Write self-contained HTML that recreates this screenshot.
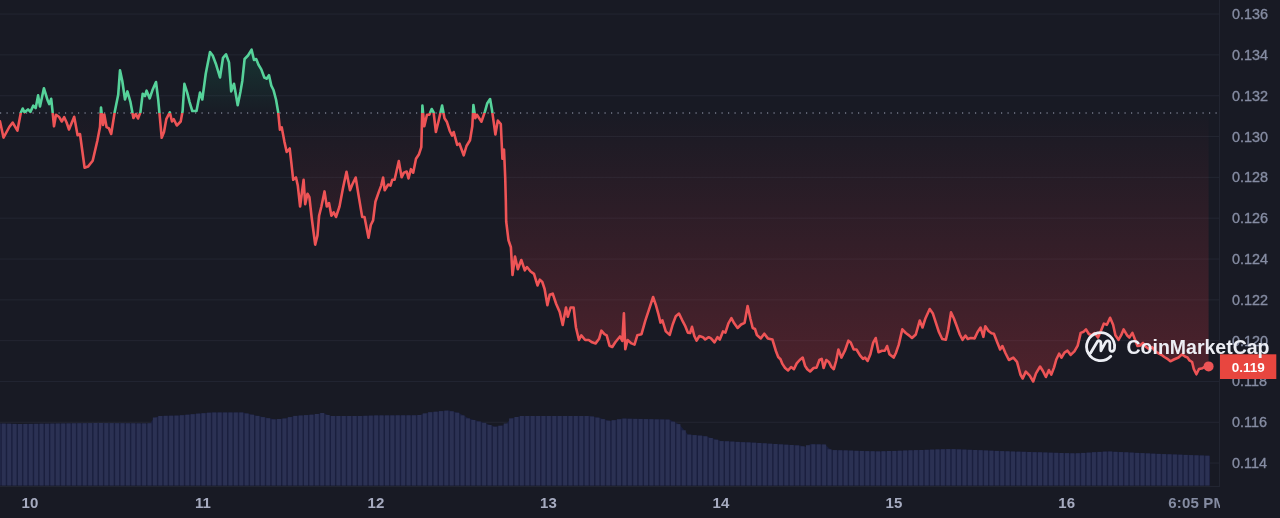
<!DOCTYPE html>
<html lang="en"><head><meta charset="utf-8"><title>Price chart</title>
<style>
html,body{margin:0;padding:0;background:#181a24;}
body{width:1280px;height:518px;overflow:hidden;font-family:"Liberation Sans",sans-serif;}
svg{display:block}
.yl text{font:14.4px "Liberation Sans",sans-serif;fill:#858ca2;stroke:#858ca2;stroke-width:0.35px;}
.xl text{font:bold 15px "Liberation Sans",sans-serif;fill:#a6abc0;letter-spacing:0.15px;}
</style></head><body>
<svg width="1280" height="518" viewBox="0 0 1280 518">
<defs>
<linearGradient id="gr" x1="0" y1="113.0" x2="0" y2="386" gradientUnits="userSpaceOnUse">
<stop offset="0" stop-color="#ea3943" stop-opacity="0.005"/><stop offset="1" stop-color="#ea3943" stop-opacity="0.265"/></linearGradient>
<linearGradient id="gg" x1="0" y1="45" x2="0" y2="113.0" gradientUnits="userSpaceOnUse">
<stop offset="0" stop-color="#16c784" stop-opacity="0.17"/><stop offset="1" stop-color="#16c784" stop-opacity="0.01"/></linearGradient>
<clipPath id="cu"><rect x="0" y="0" width="1220" height="113.0"/></clipPath>
<clipPath id="cd"><rect x="0" y="113.0" width="1220" height="400"/></clipPath>
<clipPath id="cx"><rect x="0" y="486" width="1220" height="32"/></clipPath>
</defs>
<rect width="1280" height="518" fill="#181a24"/>
<g stroke="#232632" stroke-width="1"><line x1="0" y1="14.05" x2="1219.5" y2="14.05"/><line x1="0" y1="54.85" x2="1219.5" y2="54.85"/><line x1="0" y1="95.75" x2="1219.5" y2="95.75"/><line x1="0" y1="136.55" x2="1219.5" y2="136.55"/><line x1="0" y1="177.35" x2="1219.5" y2="177.35"/><line x1="0" y1="218.15" x2="1219.5" y2="218.15"/><line x1="0" y1="259.05" x2="1219.5" y2="259.05"/><line x1="0" y1="299.85" x2="1219.5" y2="299.85"/><line x1="0" y1="340.65" x2="1219.5" y2="340.65"/><line x1="0" y1="381.45" x2="1219.5" y2="381.45"/><line x1="0" y1="422.25" x2="1219.5" y2="422.25"/><line x1="0" y1="463.05" x2="1219.5" y2="463.05"/></g>
<g clip-path="url(#cd)"><path d="M0.0,121.4 L3.5,137.6 L9.3,127.0 L12.7,122.6 L17.4,130.7 L20.8,112.8 L22.7,108.5 L24.6,112.3 L28.0,109.4 L30.4,111.9 L33.3,105.6 L35.7,108.0 L38.1,95.4 L40.0,106.5 L43.9,88.2 L47.8,100.8 L49.2,104.1 L51.2,98.8 L52.6,111.9 L54.0,126.3 L56.0,114.7 L58.9,116.7 L61.8,121.5 L64.2,117.2 L66.6,122.5 L69.0,129.5 L74.2,116.8 L77.6,135.3 L80.0,134.0 L84.6,167.8 L88.0,166.6 L92.7,160.8 L97.3,141.0 L100.0,127.0 L101.0,107.5 L103.0,125.0 L104.3,114.5 L106.6,127.2 L109.0,128.4 L111.2,134.0 L114.7,112.0 L118.2,94.8 L120.0,70.4 L122.3,81.0 L125.0,99.5 L127.4,91.4 L130.4,101.8 L133.4,118.0 L135.8,114.0 L138.0,118.5 L140.4,112.3 L142.7,93.7 L145.0,96.0 L146.6,90.7 L149.7,98.4 L152.4,90.3 L156.0,82.0 L158.2,99.5 L159.9,118.0 L161.7,137.8 L164.0,132.0 L166.3,119.2 L169.8,112.3 L172.0,121.5 L173.8,119.2 L176.8,125.5 L180.7,121.5 L182.6,111.0 L184.4,83.8 L187.2,92.6 L189.5,101.8 L192.3,111.0 L196.5,111.0 L200.0,92.6 L202.3,99.5 L205.7,74.0 L210.0,52.0 L212.7,55.5 L216.2,64.8 L220.0,77.5 L223.0,57.8 L226.0,54.3 L229.0,62.4 L231.2,91.4 L234.0,83.8 L237.7,105.3 L240.5,91.4 L242.3,81.0 L244.6,59.0 L248.0,55.5 L251.6,49.7 L254.0,60.0 L256.2,59.0 L258.5,64.8 L261.3,69.4 L264.3,77.5 L266.6,78.7 L269.0,75.2 L271.3,85.6 L273.6,90.3 L276.0,99.5 L278.2,112.3 L279.9,129.7 L281.7,127.3 L284.4,141.6 L286.7,152.0 L289.7,148.5 L291.3,162.4 L293.2,179.8 L296.0,177.5 L297.8,185.6 L300.1,206.5 L303.6,179.8 L305.2,204.2 L307.5,193.7 L309.4,197.2 L311.7,218.0 L315.2,244.7 L317.5,235.4 L319.1,215.7 L321.4,206.5 L324.5,191.4 L326.8,206.5 L329.0,203.0 L331.4,215.7 L333.7,212.3 L336.0,217.0 L339.5,206.5 L343.0,188.0 L346.5,171.7 L350.0,190.3 L352.3,184.5 L355.7,177.5 L358.5,195.0 L362.2,217.0 L364.5,217.0 L368.5,237.8 L370.8,225.0 L373.1,220.4 L375.4,201.8 L379.0,191.4 L381.2,185.6 L383.1,177.5 L384.7,190.3 L388.2,184.5 L390.5,185.6 L392.3,179.7 L394.6,179.7 L398.8,161.0 L401.6,177.3 L403.9,172.7 L406.7,171.5 L408.5,178.5 L410.9,169.2 L413.2,172.7 L416.0,158.8 L419.0,154.2 L421.3,147.2 L422.4,105.5 L424.3,126.3 L427.0,114.8 L429.3,114.8 L431.7,109.0 L433.6,112.4 L435.9,132.0 L438.7,120.5 L442.1,105.5 L444.5,118.2 L446.8,121.7 L449.8,131.0 L452.1,135.6 L453.7,132.0 L457.2,144.9 L459.5,143.7 L463.7,155.3 L466.5,146.0 L470.0,140.3 L472.3,126.3 L473.4,105.0 L475.3,118.2 L476.9,114.8 L479.2,118.2 L481.5,121.7 L485.0,111.3 L487.3,103.2 L490.1,99.0 L492.0,110.0 L493.8,122.9 L495.4,134.5 L497.8,120.6 L500.8,124.0 L502.4,158.8 L504.0,149.5 L505.2,177.3 L505.8,200.0 L506.2,221.7 L508.5,240.3 L510.9,247.2 L512.5,275.0 L515.0,256.5 L517.8,269.2 L521.3,260.0 L524.8,270.4 L527.0,267.0 L530.6,271.5 L534.0,273.9 L537.5,285.4 L539.8,279.7 L542.3,282.0 L544.6,289.0 L547.4,305.2 L549.7,294.8 L552.7,293.6 L556.2,304.0 L559.7,312.0 L562.7,324.9 L566.0,307.5 L567.8,316.8 L570.6,307.5 L573.6,307.5 L575.9,327.2 L578.9,340.0 L581.3,335.3 L585.2,340.0 L588.7,340.0 L592.1,342.3 L595.6,343.4 L599.1,338.8 L601.4,330.7 L604.4,334.2 L606.7,335.3 L609.5,345.7 L612.3,347.0 L615.3,342.3 L620.0,336.5 L622.3,341.0 L623.9,313.3 L625.3,349.2 L627.6,340.0 L631.5,343.4 L634.5,344.6 L637.3,335.3 L641.5,334.2 L645.4,320.3 L648.9,309.8 L653.1,297.0 L655.9,305.2 L658.2,313.3 L660.5,322.6 L662.4,320.3 L665.8,331.4 L669.7,334.9 L672.7,324.5 L675.8,316.3 L679.0,313.6 L682.0,319.8 L685.0,325.6 L687.8,332.6 L690.1,333.0 L692.0,326.8 L694.3,336.0 L696.6,340.7 L699.4,336.0 L702.9,337.2 L705.2,339.5 L708.7,337.2 L711.0,338.4 L714.5,342.3 L717.5,337.2 L719.8,339.5 L723.0,331.4 L725.4,332.6 L728.4,323.3 L731.4,318.2 L734.2,323.3 L737.6,328.0 L741.1,324.5 L744.6,322.8 L747.6,306.0 L750.4,318.7 L752.7,328.0 L755.0,329.0 L756.9,335.0 L760.8,338.4 L764.3,333.7 L767.8,338.4 L772.4,339.5 L775.9,351.0 L778.2,357.0 L780.5,359.2 L782.4,363.9 L785.1,368.0 L788.1,370.4 L791.1,367.0 L793.9,369.2 L796.7,363.4 L799.7,360.0 L802.7,357.6 L805.0,365.7 L807.3,369.2 L810.1,371.5 L813.6,368.0 L816.6,367.6 L819.4,360.0 L821.7,358.8 L823.6,368.0 L826.3,360.0 L829.1,362.3 L831.4,366.9 L833.8,369.2 L836.1,361.0 L838.4,349.5 L841.4,357.6 L844.9,350.7 L848.4,340.7 L850.7,342.6 L853.7,349.5 L856.5,349.5 L860.0,355.3 L863.0,358.8 L865.0,357.6 L867.6,361.0 L870.4,354.2 L873.2,342.6 L875.7,338.0 L878.5,352.3 L882.0,350.7 L884.8,350.7 L887.1,346.0 L889.4,354.2 L893.6,357.6 L895.9,353.0 L898.7,344.9 L902.3,329.3 L905.8,333.0 L909.3,335.6 L912.0,338.0 L915.8,334.5 L919.7,320.6 L922.5,327.5 L925.5,318.2 L929.7,309.0 L932.9,313.6 L935.9,322.9 L938.9,332.0 L942.2,339.0 L945.9,339.8 L948.2,329.8 L951.0,312.4 L953.8,318.2 L956.8,326.3 L959.8,334.5 L962.6,339.8 L965.4,335.6 L967.7,339.0 L970.7,338.0 L974.6,338.4 L977.6,332.0 L980.6,327.5 L983.4,336.8 L985.3,326.3 L988.5,331.0 L991.5,333.3 L993.9,333.8 L996.9,341.4 L1000.1,349.5 L1002.4,346.0 L1005.4,353.0 L1008.9,360.0 L1013.3,357.6 L1017.0,361.8 L1020.4,374.5 L1022.7,378.5 L1025.8,371.6 L1029.7,375.7 L1033.2,381.5 L1036.0,373.4 L1040.1,366.5 L1042.9,371.0 L1045.9,377.0 L1048.9,370.0 L1051.3,374.6 L1054.0,367.6 L1056.3,359.5 L1059.1,353.7 L1061.4,357.7 L1064.5,352.6 L1067.5,350.7 L1070.7,354.9 L1074.4,351.4 L1077.7,345.6 L1080.7,332.9 L1083.7,331.7 L1086.0,329.4 L1088.8,334.0 L1091.5,335.2 L1094.5,333.0 L1098.0,337.5 L1101.5,329.4 L1103.9,323.6 L1106.9,324.8 L1110.1,317.8 L1113.1,324.8 L1115.4,335.2 L1118.5,339.8 L1121.2,335.2 L1123.6,329.4 L1127.0,335.2 L1129.4,337.5 L1132.4,332.9 L1135.1,339.8 L1137.5,346.0 L1140.0,345.6 L1143.0,343.0 L1146.0,347.0 L1149.0,349.0 L1152.0,347.0 L1155.0,351.0 L1158.0,353.0 L1161.7,355.0 L1164.3,357.0 L1167.0,358.6 L1170.4,361.3 L1173.9,359.5 L1178.5,357.5 L1182.0,354.4 L1185.0,356.5 L1187.5,357.5 L1189.5,360.4 L1192.1,362.0 L1193.8,369.0 L1196.4,374.3 L1199.0,369.0 L1202.5,368.2 L1205.0,366.5 L1208.6,366.5 L1208.6,113.0 L0,113.0 Z" fill="url(#gr)"/></g>
<g clip-path="url(#cu)"><path d="M0.0,121.4 L3.5,137.6 L9.3,127.0 L12.7,122.6 L17.4,130.7 L20.8,112.8 L22.7,108.5 L24.6,112.3 L28.0,109.4 L30.4,111.9 L33.3,105.6 L35.7,108.0 L38.1,95.4 L40.0,106.5 L43.9,88.2 L47.8,100.8 L49.2,104.1 L51.2,98.8 L52.6,111.9 L54.0,126.3 L56.0,114.7 L58.9,116.7 L61.8,121.5 L64.2,117.2 L66.6,122.5 L69.0,129.5 L74.2,116.8 L77.6,135.3 L80.0,134.0 L84.6,167.8 L88.0,166.6 L92.7,160.8 L97.3,141.0 L100.0,127.0 L101.0,107.5 L103.0,125.0 L104.3,114.5 L106.6,127.2 L109.0,128.4 L111.2,134.0 L114.7,112.0 L118.2,94.8 L120.0,70.4 L122.3,81.0 L125.0,99.5 L127.4,91.4 L130.4,101.8 L133.4,118.0 L135.8,114.0 L138.0,118.5 L140.4,112.3 L142.7,93.7 L145.0,96.0 L146.6,90.7 L149.7,98.4 L152.4,90.3 L156.0,82.0 L158.2,99.5 L159.9,118.0 L161.7,137.8 L164.0,132.0 L166.3,119.2 L169.8,112.3 L172.0,121.5 L173.8,119.2 L176.8,125.5 L180.7,121.5 L182.6,111.0 L184.4,83.8 L187.2,92.6 L189.5,101.8 L192.3,111.0 L196.5,111.0 L200.0,92.6 L202.3,99.5 L205.7,74.0 L210.0,52.0 L212.7,55.5 L216.2,64.8 L220.0,77.5 L223.0,57.8 L226.0,54.3 L229.0,62.4 L231.2,91.4 L234.0,83.8 L237.7,105.3 L240.5,91.4 L242.3,81.0 L244.6,59.0 L248.0,55.5 L251.6,49.7 L254.0,60.0 L256.2,59.0 L258.5,64.8 L261.3,69.4 L264.3,77.5 L266.6,78.7 L269.0,75.2 L271.3,85.6 L273.6,90.3 L276.0,99.5 L278.2,112.3 L279.9,129.7 L281.7,127.3 L284.4,141.6 L286.7,152.0 L289.7,148.5 L291.3,162.4 L293.2,179.8 L296.0,177.5 L297.8,185.6 L300.1,206.5 L303.6,179.8 L305.2,204.2 L307.5,193.7 L309.4,197.2 L311.7,218.0 L315.2,244.7 L317.5,235.4 L319.1,215.7 L321.4,206.5 L324.5,191.4 L326.8,206.5 L329.0,203.0 L331.4,215.7 L333.7,212.3 L336.0,217.0 L339.5,206.5 L343.0,188.0 L346.5,171.7 L350.0,190.3 L352.3,184.5 L355.7,177.5 L358.5,195.0 L362.2,217.0 L364.5,217.0 L368.5,237.8 L370.8,225.0 L373.1,220.4 L375.4,201.8 L379.0,191.4 L381.2,185.6 L383.1,177.5 L384.7,190.3 L388.2,184.5 L390.5,185.6 L392.3,179.7 L394.6,179.7 L398.8,161.0 L401.6,177.3 L403.9,172.7 L406.7,171.5 L408.5,178.5 L410.9,169.2 L413.2,172.7 L416.0,158.8 L419.0,154.2 L421.3,147.2 L422.4,105.5 L424.3,126.3 L427.0,114.8 L429.3,114.8 L431.7,109.0 L433.6,112.4 L435.9,132.0 L438.7,120.5 L442.1,105.5 L444.5,118.2 L446.8,121.7 L449.8,131.0 L452.1,135.6 L453.7,132.0 L457.2,144.9 L459.5,143.7 L463.7,155.3 L466.5,146.0 L470.0,140.3 L472.3,126.3 L473.4,105.0 L475.3,118.2 L476.9,114.8 L479.2,118.2 L481.5,121.7 L485.0,111.3 L487.3,103.2 L490.1,99.0 L492.0,110.0 L493.8,122.9 L495.4,134.5 L497.8,120.6 L500.8,124.0 L502.4,158.8 L504.0,149.5 L505.2,177.3 L505.8,200.0 L506.2,221.7 L508.5,240.3 L510.9,247.2 L512.5,275.0 L515.0,256.5 L517.8,269.2 L521.3,260.0 L524.8,270.4 L527.0,267.0 L530.6,271.5 L534.0,273.9 L537.5,285.4 L539.8,279.7 L542.3,282.0 L544.6,289.0 L547.4,305.2 L549.7,294.8 L552.7,293.6 L556.2,304.0 L559.7,312.0 L562.7,324.9 L566.0,307.5 L567.8,316.8 L570.6,307.5 L573.6,307.5 L575.9,327.2 L578.9,340.0 L581.3,335.3 L585.2,340.0 L588.7,340.0 L592.1,342.3 L595.6,343.4 L599.1,338.8 L601.4,330.7 L604.4,334.2 L606.7,335.3 L609.5,345.7 L612.3,347.0 L615.3,342.3 L620.0,336.5 L622.3,341.0 L623.9,313.3 L625.3,349.2 L627.6,340.0 L631.5,343.4 L634.5,344.6 L637.3,335.3 L641.5,334.2 L645.4,320.3 L648.9,309.8 L653.1,297.0 L655.9,305.2 L658.2,313.3 L660.5,322.6 L662.4,320.3 L665.8,331.4 L669.7,334.9 L672.7,324.5 L675.8,316.3 L679.0,313.6 L682.0,319.8 L685.0,325.6 L687.8,332.6 L690.1,333.0 L692.0,326.8 L694.3,336.0 L696.6,340.7 L699.4,336.0 L702.9,337.2 L705.2,339.5 L708.7,337.2 L711.0,338.4 L714.5,342.3 L717.5,337.2 L719.8,339.5 L723.0,331.4 L725.4,332.6 L728.4,323.3 L731.4,318.2 L734.2,323.3 L737.6,328.0 L741.1,324.5 L744.6,322.8 L747.6,306.0 L750.4,318.7 L752.7,328.0 L755.0,329.0 L756.9,335.0 L760.8,338.4 L764.3,333.7 L767.8,338.4 L772.4,339.5 L775.9,351.0 L778.2,357.0 L780.5,359.2 L782.4,363.9 L785.1,368.0 L788.1,370.4 L791.1,367.0 L793.9,369.2 L796.7,363.4 L799.7,360.0 L802.7,357.6 L805.0,365.7 L807.3,369.2 L810.1,371.5 L813.6,368.0 L816.6,367.6 L819.4,360.0 L821.7,358.8 L823.6,368.0 L826.3,360.0 L829.1,362.3 L831.4,366.9 L833.8,369.2 L836.1,361.0 L838.4,349.5 L841.4,357.6 L844.9,350.7 L848.4,340.7 L850.7,342.6 L853.7,349.5 L856.5,349.5 L860.0,355.3 L863.0,358.8 L865.0,357.6 L867.6,361.0 L870.4,354.2 L873.2,342.6 L875.7,338.0 L878.5,352.3 L882.0,350.7 L884.8,350.7 L887.1,346.0 L889.4,354.2 L893.6,357.6 L895.9,353.0 L898.7,344.9 L902.3,329.3 L905.8,333.0 L909.3,335.6 L912.0,338.0 L915.8,334.5 L919.7,320.6 L922.5,327.5 L925.5,318.2 L929.7,309.0 L932.9,313.6 L935.9,322.9 L938.9,332.0 L942.2,339.0 L945.9,339.8 L948.2,329.8 L951.0,312.4 L953.8,318.2 L956.8,326.3 L959.8,334.5 L962.6,339.8 L965.4,335.6 L967.7,339.0 L970.7,338.0 L974.6,338.4 L977.6,332.0 L980.6,327.5 L983.4,336.8 L985.3,326.3 L988.5,331.0 L991.5,333.3 L993.9,333.8 L996.9,341.4 L1000.1,349.5 L1002.4,346.0 L1005.4,353.0 L1008.9,360.0 L1013.3,357.6 L1017.0,361.8 L1020.4,374.5 L1022.7,378.5 L1025.8,371.6 L1029.7,375.7 L1033.2,381.5 L1036.0,373.4 L1040.1,366.5 L1042.9,371.0 L1045.9,377.0 L1048.9,370.0 L1051.3,374.6 L1054.0,367.6 L1056.3,359.5 L1059.1,353.7 L1061.4,357.7 L1064.5,352.6 L1067.5,350.7 L1070.7,354.9 L1074.4,351.4 L1077.7,345.6 L1080.7,332.9 L1083.7,331.7 L1086.0,329.4 L1088.8,334.0 L1091.5,335.2 L1094.5,333.0 L1098.0,337.5 L1101.5,329.4 L1103.9,323.6 L1106.9,324.8 L1110.1,317.8 L1113.1,324.8 L1115.4,335.2 L1118.5,339.8 L1121.2,335.2 L1123.6,329.4 L1127.0,335.2 L1129.4,337.5 L1132.4,332.9 L1135.1,339.8 L1137.5,346.0 L1140.0,345.6 L1143.0,343.0 L1146.0,347.0 L1149.0,349.0 L1152.0,347.0 L1155.0,351.0 L1158.0,353.0 L1161.7,355.0 L1164.3,357.0 L1167.0,358.6 L1170.4,361.3 L1173.9,359.5 L1178.5,357.5 L1182.0,354.4 L1185.0,356.5 L1187.5,357.5 L1189.5,360.4 L1192.1,362.0 L1193.8,369.0 L1196.4,374.3 L1199.0,369.0 L1202.5,368.2 L1205.0,366.5 L1208.6,366.5 L1208.6,113.0 L0,113.0 Z" fill="url(#gg)"/></g>
<path d="M0,485.5 L0,423.5 L20,424 L60,423.5 L100,423 L150,423.5 L154,418 L160,416 L180,415.5 L200,413.5 L212,412.5 L243,412.5 L256,415.5 L275,419.5 L285,418.5 L295,416 L315,414.5 L323,413 L331,416 L360,416 L377,415.4 L419,415.3 L429,412.4 L449,410.4 L459,413 L469,418.6 L485,423 L495,426.8 L505,425 L511,418.6 L521,416 L590,416 L600,418 L610,421 L623,418.6 L669,419.6 L679,424 L688,434.4 L705,436 L721,441 L760,443 L800,445.5 L806,447 L810,444.2 L825,444.5 L831,450 L879,451.4 L951,449 L1010,451.4 L1076,453.4 L1108,451.4 L1161,454 L1209,455.7 L1210,455.7 L1210,485.5 Z" fill="#1a1f3e"/>
<g fill="#2b3153"><rect x="0.00" y="423.5" width="0.37" height="62.0"/><rect x="1.77" y="423.6" width="4.00" height="61.9"/><rect x="7.17" y="423.7" width="4.00" height="61.8"/><rect x="12.57" y="423.9" width="4.00" height="61.6"/><rect x="17.96" y="424.0" width="4.00" height="61.5"/><rect x="23.36" y="423.9" width="4.00" height="61.6"/><rect x="28.76" y="423.9" width="4.00" height="61.6"/><rect x="34.15" y="423.8" width="4.00" height="61.7"/><rect x="39.55" y="423.7" width="4.00" height="61.8"/><rect x="44.95" y="423.7" width="4.00" height="61.8"/><rect x="50.34" y="423.6" width="4.00" height="61.9"/><rect x="55.74" y="423.5" width="4.00" height="62.0"/><rect x="61.14" y="423.5" width="4.00" height="62.0"/><rect x="66.54" y="423.4" width="4.00" height="62.1"/><rect x="71.93" y="423.3" width="4.00" height="62.2"/><rect x="77.33" y="423.2" width="4.00" height="62.3"/><rect x="82.73" y="423.2" width="4.00" height="62.3"/><rect x="88.12" y="423.1" width="4.00" height="62.4"/><rect x="93.52" y="423.0" width="4.00" height="62.5"/><rect x="98.92" y="423.0" width="4.00" height="62.5"/><rect x="104.31" y="423.1" width="4.00" height="62.4"/><rect x="109.71" y="423.1" width="4.00" height="62.4"/><rect x="115.11" y="423.2" width="4.00" height="62.3"/><rect x="120.51" y="423.2" width="4.00" height="62.3"/><rect x="125.90" y="423.3" width="4.00" height="62.2"/><rect x="131.30" y="423.3" width="4.00" height="62.2"/><rect x="136.70" y="423.4" width="4.00" height="62.1"/><rect x="142.09" y="423.4" width="4.00" height="62.1"/><rect x="147.49" y="423.2" width="4.00" height="62.3"/><rect x="152.89" y="417.5" width="4.00" height="68.0"/><rect x="158.28" y="416.0" width="4.00" height="69.5"/><rect x="163.68" y="415.8" width="4.00" height="69.7"/><rect x="169.08" y="415.7" width="4.00" height="69.8"/><rect x="174.48" y="415.6" width="4.00" height="69.9"/><rect x="179.87" y="415.2" width="4.00" height="70.3"/><rect x="185.27" y="414.7" width="4.00" height="70.8"/><rect x="190.67" y="414.2" width="4.00" height="71.3"/><rect x="196.06" y="413.6" width="4.00" height="71.9"/><rect x="201.46" y="413.2" width="4.00" height="72.3"/><rect x="206.86" y="412.7" width="4.00" height="72.8"/><rect x="212.25" y="412.5" width="4.00" height="73.0"/><rect x="217.65" y="412.5" width="4.00" height="73.0"/><rect x="223.05" y="412.5" width="4.00" height="73.0"/><rect x="228.45" y="412.5" width="4.00" height="73.0"/><rect x="233.84" y="412.5" width="4.00" height="73.0"/><rect x="239.24" y="412.5" width="4.00" height="73.0"/><rect x="244.64" y="413.5" width="4.00" height="72.0"/><rect x="250.03" y="414.7" width="4.00" height="70.8"/><rect x="255.43" y="415.9" width="4.00" height="69.6"/><rect x="260.83" y="417.1" width="4.00" height="68.4"/><rect x="266.22" y="418.2" width="4.00" height="67.3"/><rect x="271.62" y="419.4" width="4.00" height="66.1"/><rect x="277.02" y="419.0" width="4.00" height="66.5"/><rect x="282.42" y="418.5" width="4.00" height="67.0"/><rect x="287.81" y="417.1" width="4.00" height="68.4"/><rect x="293.21" y="415.9" width="4.00" height="69.6"/><rect x="298.61" y="415.5" width="4.00" height="70.0"/><rect x="304.00" y="415.1" width="4.00" height="70.4"/><rect x="309.40" y="414.7" width="4.00" height="70.8"/><rect x="314.80" y="414.0" width="4.00" height="71.5"/><rect x="320.19" y="413.0" width="4.00" height="72.5"/><rect x="325.59" y="415.0" width="4.00" height="70.5"/><rect x="330.99" y="416.0" width="4.00" height="69.5"/><rect x="336.39" y="416.0" width="4.00" height="69.5"/><rect x="341.78" y="416.0" width="4.00" height="69.5"/><rect x="347.18" y="416.0" width="4.00" height="69.5"/><rect x="352.58" y="416.0" width="4.00" height="69.5"/><rect x="357.97" y="416.0" width="4.00" height="69.5"/><rect x="363.37" y="415.8" width="4.00" height="69.7"/><rect x="368.77" y="415.6" width="4.00" height="69.9"/><rect x="374.16" y="415.4" width="4.00" height="70.1"/><rect x="379.56" y="415.4" width="4.00" height="70.1"/><rect x="384.96" y="415.4" width="4.00" height="70.1"/><rect x="390.36" y="415.4" width="4.00" height="70.1"/><rect x="395.75" y="415.3" width="4.00" height="70.2"/><rect x="401.15" y="415.3" width="4.00" height="70.2"/><rect x="406.55" y="415.3" width="4.00" height="70.2"/><rect x="411.94" y="415.3" width="4.00" height="70.2"/><rect x="417.34" y="415.0" width="4.00" height="70.5"/><rect x="422.74" y="413.4" width="4.00" height="72.1"/><rect x="428.13" y="412.2" width="4.00" height="73.3"/><rect x="433.53" y="411.7" width="4.00" height="73.8"/><rect x="438.93" y="411.1" width="4.00" height="74.4"/><rect x="444.33" y="410.6" width="4.00" height="74.9"/><rect x="449.72" y="411.3" width="4.00" height="74.2"/><rect x="455.12" y="412.7" width="4.00" height="72.8"/><rect x="460.52" y="415.4" width="4.00" height="70.1"/><rect x="465.91" y="418.4" width="4.00" height="67.1"/><rect x="471.31" y="420.0" width="4.00" height="65.5"/><rect x="476.71" y="421.5" width="4.00" height="64.0"/><rect x="482.10" y="422.9" width="4.00" height="62.6"/><rect x="487.50" y="425.0" width="4.00" height="60.5"/><rect x="492.90" y="426.7" width="4.00" height="58.8"/><rect x="498.30" y="425.7" width="4.00" height="59.8"/><rect x="503.69" y="423.5" width="4.00" height="62.0"/><rect x="509.09" y="418.4" width="4.00" height="67.1"/><rect x="514.49" y="417.0" width="4.00" height="68.5"/><rect x="519.88" y="416.0" width="4.00" height="69.5"/><rect x="525.28" y="416.0" width="4.00" height="69.5"/><rect x="530.68" y="416.0" width="4.00" height="69.5"/><rect x="536.07" y="416.0" width="4.00" height="69.5"/><rect x="541.47" y="416.0" width="4.00" height="69.5"/><rect x="546.87" y="416.0" width="4.00" height="69.5"/><rect x="552.27" y="416.0" width="4.00" height="69.5"/><rect x="557.66" y="416.0" width="4.00" height="69.5"/><rect x="563.06" y="416.0" width="4.00" height="69.5"/><rect x="568.46" y="416.0" width="4.00" height="69.5"/><rect x="573.85" y="416.0" width="4.00" height="69.5"/><rect x="579.25" y="416.0" width="4.00" height="69.5"/><rect x="584.65" y="416.0" width="4.00" height="69.5"/><rect x="590.05" y="416.5" width="4.00" height="69.0"/><rect x="595.44" y="417.6" width="4.00" height="67.9"/><rect x="600.84" y="419.1" width="4.00" height="66.4"/><rect x="606.24" y="420.7" width="4.00" height="64.8"/><rect x="611.63" y="420.2" width="4.00" height="65.3"/><rect x="617.03" y="419.2" width="4.00" height="66.3"/><rect x="622.43" y="418.6" width="4.00" height="66.9"/><rect x="627.82" y="418.8" width="4.00" height="66.7"/><rect x="633.22" y="418.9" width="4.00" height="66.6"/><rect x="638.62" y="419.0" width="4.00" height="66.5"/><rect x="644.02" y="419.1" width="4.00" height="66.4"/><rect x="649.41" y="419.2" width="4.00" height="66.3"/><rect x="654.81" y="419.4" width="4.00" height="66.1"/><rect x="660.21" y="419.5" width="4.00" height="66.0"/><rect x="665.60" y="419.6" width="4.00" height="65.9"/><rect x="671.00" y="421.7" width="4.00" height="63.8"/><rect x="676.40" y="424.1" width="4.00" height="61.4"/><rect x="681.79" y="430.3" width="4.00" height="55.2"/><rect x="687.19" y="434.6" width="4.00" height="50.9"/><rect x="692.59" y="435.1" width="4.00" height="50.4"/><rect x="697.99" y="435.6" width="4.00" height="49.9"/><rect x="703.38" y="436.3" width="4.00" height="49.2"/><rect x="708.78" y="438.0" width="4.00" height="47.5"/><rect x="714.18" y="439.7" width="4.00" height="45.8"/><rect x="719.57" y="441.1" width="4.00" height="44.4"/><rect x="724.97" y="441.3" width="4.00" height="44.2"/><rect x="730.37" y="441.6" width="4.00" height="43.9"/><rect x="735.76" y="441.9" width="4.00" height="43.6"/><rect x="741.16" y="442.2" width="4.00" height="43.3"/><rect x="746.56" y="442.4" width="4.00" height="43.1"/><rect x="751.96" y="442.7" width="4.00" height="42.8"/><rect x="757.35" y="443.0" width="4.00" height="42.5"/><rect x="762.75" y="443.3" width="4.00" height="42.2"/><rect x="768.15" y="443.7" width="4.00" height="41.8"/><rect x="773.54" y="444.0" width="4.00" height="41.5"/><rect x="778.94" y="444.4" width="4.00" height="41.1"/><rect x="784.34" y="444.7" width="4.00" height="40.8"/><rect x="789.73" y="445.0" width="4.00" height="40.5"/><rect x="795.13" y="445.4" width="4.00" height="40.1"/><rect x="800.53" y="446.3" width="4.00" height="39.2"/><rect x="805.93" y="445.2" width="4.00" height="40.3"/><rect x="811.32" y="444.3" width="4.00" height="41.2"/><rect x="816.72" y="444.4" width="4.00" height="41.1"/><rect x="822.12" y="444.5" width="4.00" height="41.0"/><rect x="827.51" y="449.3" width="4.00" height="36.2"/><rect x="832.91" y="450.1" width="4.00" height="35.4"/><rect x="838.31" y="450.3" width="4.00" height="35.2"/><rect x="843.70" y="450.4" width="4.00" height="35.1"/><rect x="849.10" y="450.6" width="4.00" height="34.9"/><rect x="854.50" y="450.8" width="4.00" height="34.7"/><rect x="859.90" y="450.9" width="4.00" height="34.6"/><rect x="865.29" y="451.1" width="4.00" height="34.4"/><rect x="870.69" y="451.2" width="4.00" height="34.3"/><rect x="876.09" y="451.4" width="4.00" height="34.1"/><rect x="881.48" y="451.2" width="4.00" height="34.3"/><rect x="886.88" y="451.0" width="4.00" height="34.5"/><rect x="892.28" y="450.9" width="4.00" height="34.6"/><rect x="897.67" y="450.7" width="4.00" height="34.8"/><rect x="903.07" y="450.5" width="4.00" height="35.0"/><rect x="908.47" y="450.3" width="4.00" height="35.2"/><rect x="913.87" y="450.1" width="4.00" height="35.4"/><rect x="919.26" y="450.0" width="4.00" height="35.5"/><rect x="924.66" y="449.8" width="4.00" height="35.7"/><rect x="930.06" y="449.6" width="4.00" height="35.9"/><rect x="935.45" y="449.4" width="4.00" height="36.1"/><rect x="940.85" y="449.2" width="4.00" height="36.3"/><rect x="946.25" y="449.1" width="4.00" height="36.4"/><rect x="951.64" y="449.1" width="4.00" height="36.4"/><rect x="957.04" y="449.4" width="4.00" height="36.1"/><rect x="962.44" y="449.6" width="4.00" height="35.9"/><rect x="967.84" y="449.8" width="4.00" height="35.7"/><rect x="973.23" y="450.0" width="4.00" height="35.5"/><rect x="978.63" y="450.2" width="4.00" height="35.3"/><rect x="984.03" y="450.5" width="4.00" height="35.0"/><rect x="989.42" y="450.7" width="4.00" height="34.8"/><rect x="994.82" y="450.9" width="4.00" height="34.6"/><rect x="1000.22" y="451.1" width="4.00" height="34.4"/><rect x="1005.61" y="451.3" width="4.00" height="34.2"/><rect x="1011.01" y="451.5" width="4.00" height="34.0"/><rect x="1016.41" y="451.7" width="4.00" height="33.8"/><rect x="1021.81" y="451.8" width="4.00" height="33.7"/><rect x="1027.20" y="452.0" width="4.00" height="33.5"/><rect x="1032.60" y="452.2" width="4.00" height="33.3"/><rect x="1038.00" y="452.3" width="4.00" height="33.2"/><rect x="1043.39" y="452.5" width="4.00" height="33.0"/><rect x="1048.79" y="452.7" width="4.00" height="32.8"/><rect x="1054.19" y="452.8" width="4.00" height="32.7"/><rect x="1059.58" y="453.0" width="4.00" height="32.5"/><rect x="1064.98" y="453.1" width="4.00" height="32.4"/><rect x="1070.38" y="453.3" width="4.00" height="32.2"/><rect x="1075.78" y="453.2" width="4.00" height="32.3"/><rect x="1081.17" y="452.9" width="4.00" height="32.6"/><rect x="1086.57" y="452.6" width="4.00" height="32.9"/><rect x="1091.97" y="452.2" width="4.00" height="33.3"/><rect x="1097.36" y="451.9" width="4.00" height="33.6"/><rect x="1102.76" y="451.6" width="4.00" height="33.9"/><rect x="1108.16" y="451.5" width="4.00" height="34.0"/><rect x="1113.55" y="451.8" width="4.00" height="33.7"/><rect x="1118.95" y="452.1" width="4.00" height="33.4"/><rect x="1124.35" y="452.3" width="4.00" height="33.2"/><rect x="1129.75" y="452.6" width="4.00" height="32.9"/><rect x="1135.14" y="452.9" width="4.00" height="32.6"/><rect x="1140.54" y="453.1" width="4.00" height="32.4"/><rect x="1145.94" y="453.4" width="4.00" height="32.1"/><rect x="1151.33" y="453.7" width="4.00" height="31.8"/><rect x="1156.73" y="453.9" width="4.00" height="31.6"/><rect x="1162.13" y="454.1" width="4.00" height="31.4"/><rect x="1167.52" y="454.3" width="4.00" height="31.2"/><rect x="1172.92" y="454.5" width="4.00" height="31.0"/><rect x="1178.32" y="454.7" width="4.00" height="30.8"/><rect x="1183.72" y="454.9" width="4.00" height="30.6"/><rect x="1189.11" y="455.1" width="4.00" height="30.4"/><rect x="1194.51" y="455.3" width="4.00" height="30.2"/><rect x="1199.91" y="455.5" width="4.00" height="30.0"/><rect x="1205.30" y="455.7" width="4.00" height="29.8"/></g>
<line x1="0" y1="113.0" x2="1218" y2="113.0" stroke="#a1a7bb" stroke-width="1.2" stroke-dasharray="1.2 5.3"/>
<g fill="none" stroke-width="2.6" stroke-linejoin="round" stroke-linecap="round">
<g clip-path="url(#cd)"><path d="M0.0,121.4 L3.5,137.6 L9.3,127.0 L12.7,122.6 L17.4,130.7 L20.8,112.8 L22.7,108.5 L24.6,112.3 L28.0,109.4 L30.4,111.9 L33.3,105.6 L35.7,108.0 L38.1,95.4 L40.0,106.5 L43.9,88.2 L47.8,100.8 L49.2,104.1 L51.2,98.8 L52.6,111.9 L54.0,126.3 L56.0,114.7 L58.9,116.7 L61.8,121.5 L64.2,117.2 L66.6,122.5 L69.0,129.5 L74.2,116.8 L77.6,135.3 L80.0,134.0 L84.6,167.8 L88.0,166.6 L92.7,160.8 L97.3,141.0 L100.0,127.0 L101.0,107.5 L103.0,125.0 L104.3,114.5 L106.6,127.2 L109.0,128.4 L111.2,134.0 L114.7,112.0 L118.2,94.8 L120.0,70.4 L122.3,81.0 L125.0,99.5 L127.4,91.4 L130.4,101.8 L133.4,118.0 L135.8,114.0 L138.0,118.5 L140.4,112.3 L142.7,93.7 L145.0,96.0 L146.6,90.7 L149.7,98.4 L152.4,90.3 L156.0,82.0 L158.2,99.5 L159.9,118.0 L161.7,137.8 L164.0,132.0 L166.3,119.2 L169.8,112.3 L172.0,121.5 L173.8,119.2 L176.8,125.5 L180.7,121.5 L182.6,111.0 L184.4,83.8 L187.2,92.6 L189.5,101.8 L192.3,111.0 L196.5,111.0 L200.0,92.6 L202.3,99.5 L205.7,74.0 L210.0,52.0 L212.7,55.5 L216.2,64.8 L220.0,77.5 L223.0,57.8 L226.0,54.3 L229.0,62.4 L231.2,91.4 L234.0,83.8 L237.7,105.3 L240.5,91.4 L242.3,81.0 L244.6,59.0 L248.0,55.5 L251.6,49.7 L254.0,60.0 L256.2,59.0 L258.5,64.8 L261.3,69.4 L264.3,77.5 L266.6,78.7 L269.0,75.2 L271.3,85.6 L273.6,90.3 L276.0,99.5 L278.2,112.3 L279.9,129.7 L281.7,127.3 L284.4,141.6 L286.7,152.0 L289.7,148.5 L291.3,162.4 L293.2,179.8 L296.0,177.5 L297.8,185.6 L300.1,206.5 L303.6,179.8 L305.2,204.2 L307.5,193.7 L309.4,197.2 L311.7,218.0 L315.2,244.7 L317.5,235.4 L319.1,215.7 L321.4,206.5 L324.5,191.4 L326.8,206.5 L329.0,203.0 L331.4,215.7 L333.7,212.3 L336.0,217.0 L339.5,206.5 L343.0,188.0 L346.5,171.7 L350.0,190.3 L352.3,184.5 L355.7,177.5 L358.5,195.0 L362.2,217.0 L364.5,217.0 L368.5,237.8 L370.8,225.0 L373.1,220.4 L375.4,201.8 L379.0,191.4 L381.2,185.6 L383.1,177.5 L384.7,190.3 L388.2,184.5 L390.5,185.6 L392.3,179.7 L394.6,179.7 L398.8,161.0 L401.6,177.3 L403.9,172.7 L406.7,171.5 L408.5,178.5 L410.9,169.2 L413.2,172.7 L416.0,158.8 L419.0,154.2 L421.3,147.2 L422.4,105.5 L424.3,126.3 L427.0,114.8 L429.3,114.8 L431.7,109.0 L433.6,112.4 L435.9,132.0 L438.7,120.5 L442.1,105.5 L444.5,118.2 L446.8,121.7 L449.8,131.0 L452.1,135.6 L453.7,132.0 L457.2,144.9 L459.5,143.7 L463.7,155.3 L466.5,146.0 L470.0,140.3 L472.3,126.3 L473.4,105.0 L475.3,118.2 L476.9,114.8 L479.2,118.2 L481.5,121.7 L485.0,111.3 L487.3,103.2 L490.1,99.0 L492.0,110.0 L493.8,122.9 L495.4,134.5 L497.8,120.6 L500.8,124.0 L502.4,158.8 L504.0,149.5 L505.2,177.3 L505.8,200.0 L506.2,221.7 L508.5,240.3 L510.9,247.2 L512.5,275.0 L515.0,256.5 L517.8,269.2 L521.3,260.0 L524.8,270.4 L527.0,267.0 L530.6,271.5 L534.0,273.9 L537.5,285.4 L539.8,279.7 L542.3,282.0 L544.6,289.0 L547.4,305.2 L549.7,294.8 L552.7,293.6 L556.2,304.0 L559.7,312.0 L562.7,324.9 L566.0,307.5 L567.8,316.8 L570.6,307.5 L573.6,307.5 L575.9,327.2 L578.9,340.0 L581.3,335.3 L585.2,340.0 L588.7,340.0 L592.1,342.3 L595.6,343.4 L599.1,338.8 L601.4,330.7 L604.4,334.2 L606.7,335.3 L609.5,345.7 L612.3,347.0 L615.3,342.3 L620.0,336.5 L622.3,341.0 L623.9,313.3 L625.3,349.2 L627.6,340.0 L631.5,343.4 L634.5,344.6 L637.3,335.3 L641.5,334.2 L645.4,320.3 L648.9,309.8 L653.1,297.0 L655.9,305.2 L658.2,313.3 L660.5,322.6 L662.4,320.3 L665.8,331.4 L669.7,334.9 L672.7,324.5 L675.8,316.3 L679.0,313.6 L682.0,319.8 L685.0,325.6 L687.8,332.6 L690.1,333.0 L692.0,326.8 L694.3,336.0 L696.6,340.7 L699.4,336.0 L702.9,337.2 L705.2,339.5 L708.7,337.2 L711.0,338.4 L714.5,342.3 L717.5,337.2 L719.8,339.5 L723.0,331.4 L725.4,332.6 L728.4,323.3 L731.4,318.2 L734.2,323.3 L737.6,328.0 L741.1,324.5 L744.6,322.8 L747.6,306.0 L750.4,318.7 L752.7,328.0 L755.0,329.0 L756.9,335.0 L760.8,338.4 L764.3,333.7 L767.8,338.4 L772.4,339.5 L775.9,351.0 L778.2,357.0 L780.5,359.2 L782.4,363.9 L785.1,368.0 L788.1,370.4 L791.1,367.0 L793.9,369.2 L796.7,363.4 L799.7,360.0 L802.7,357.6 L805.0,365.7 L807.3,369.2 L810.1,371.5 L813.6,368.0 L816.6,367.6 L819.4,360.0 L821.7,358.8 L823.6,368.0 L826.3,360.0 L829.1,362.3 L831.4,366.9 L833.8,369.2 L836.1,361.0 L838.4,349.5 L841.4,357.6 L844.9,350.7 L848.4,340.7 L850.7,342.6 L853.7,349.5 L856.5,349.5 L860.0,355.3 L863.0,358.8 L865.0,357.6 L867.6,361.0 L870.4,354.2 L873.2,342.6 L875.7,338.0 L878.5,352.3 L882.0,350.7 L884.8,350.7 L887.1,346.0 L889.4,354.2 L893.6,357.6 L895.9,353.0 L898.7,344.9 L902.3,329.3 L905.8,333.0 L909.3,335.6 L912.0,338.0 L915.8,334.5 L919.7,320.6 L922.5,327.5 L925.5,318.2 L929.7,309.0 L932.9,313.6 L935.9,322.9 L938.9,332.0 L942.2,339.0 L945.9,339.8 L948.2,329.8 L951.0,312.4 L953.8,318.2 L956.8,326.3 L959.8,334.5 L962.6,339.8 L965.4,335.6 L967.7,339.0 L970.7,338.0 L974.6,338.4 L977.6,332.0 L980.6,327.5 L983.4,336.8 L985.3,326.3 L988.5,331.0 L991.5,333.3 L993.9,333.8 L996.9,341.4 L1000.1,349.5 L1002.4,346.0 L1005.4,353.0 L1008.9,360.0 L1013.3,357.6 L1017.0,361.8 L1020.4,374.5 L1022.7,378.5 L1025.8,371.6 L1029.7,375.7 L1033.2,381.5 L1036.0,373.4 L1040.1,366.5 L1042.9,371.0 L1045.9,377.0 L1048.9,370.0 L1051.3,374.6 L1054.0,367.6 L1056.3,359.5 L1059.1,353.7 L1061.4,357.7 L1064.5,352.6 L1067.5,350.7 L1070.7,354.9 L1074.4,351.4 L1077.7,345.6 L1080.7,332.9 L1083.7,331.7 L1086.0,329.4 L1088.8,334.0 L1091.5,335.2 L1094.5,333.0 L1098.0,337.5 L1101.5,329.4 L1103.9,323.6 L1106.9,324.8 L1110.1,317.8 L1113.1,324.8 L1115.4,335.2 L1118.5,339.8 L1121.2,335.2 L1123.6,329.4 L1127.0,335.2 L1129.4,337.5 L1132.4,332.9 L1135.1,339.8 L1137.5,346.0 L1140.0,345.6 L1143.0,343.0 L1146.0,347.0 L1149.0,349.0 L1152.0,347.0 L1155.0,351.0 L1158.0,353.0 L1161.7,355.0 L1164.3,357.0 L1167.0,358.6 L1170.4,361.3 L1173.9,359.5 L1178.5,357.5 L1182.0,354.4 L1185.0,356.5 L1187.5,357.5 L1189.5,360.4 L1192.1,362.0 L1193.8,369.0 L1196.4,374.3 L1199.0,369.0 L1202.5,368.2 L1205.0,366.5 L1208.6,366.5" stroke="#ee5456"/></g>
<g clip-path="url(#cu)"><path d="M0.0,121.4 L3.5,137.6 L9.3,127.0 L12.7,122.6 L17.4,130.7 L20.8,112.8 L22.7,108.5 L24.6,112.3 L28.0,109.4 L30.4,111.9 L33.3,105.6 L35.7,108.0 L38.1,95.4 L40.0,106.5 L43.9,88.2 L47.8,100.8 L49.2,104.1 L51.2,98.8 L52.6,111.9 L54.0,126.3 L56.0,114.7 L58.9,116.7 L61.8,121.5 L64.2,117.2 L66.6,122.5 L69.0,129.5 L74.2,116.8 L77.6,135.3 L80.0,134.0 L84.6,167.8 L88.0,166.6 L92.7,160.8 L97.3,141.0 L100.0,127.0 L101.0,107.5 L103.0,125.0 L104.3,114.5 L106.6,127.2 L109.0,128.4 L111.2,134.0 L114.7,112.0 L118.2,94.8 L120.0,70.4 L122.3,81.0 L125.0,99.5 L127.4,91.4 L130.4,101.8 L133.4,118.0 L135.8,114.0 L138.0,118.5 L140.4,112.3 L142.7,93.7 L145.0,96.0 L146.6,90.7 L149.7,98.4 L152.4,90.3 L156.0,82.0 L158.2,99.5 L159.9,118.0 L161.7,137.8 L164.0,132.0 L166.3,119.2 L169.8,112.3 L172.0,121.5 L173.8,119.2 L176.8,125.5 L180.7,121.5 L182.6,111.0 L184.4,83.8 L187.2,92.6 L189.5,101.8 L192.3,111.0 L196.5,111.0 L200.0,92.6 L202.3,99.5 L205.7,74.0 L210.0,52.0 L212.7,55.5 L216.2,64.8 L220.0,77.5 L223.0,57.8 L226.0,54.3 L229.0,62.4 L231.2,91.4 L234.0,83.8 L237.7,105.3 L240.5,91.4 L242.3,81.0 L244.6,59.0 L248.0,55.5 L251.6,49.7 L254.0,60.0 L256.2,59.0 L258.5,64.8 L261.3,69.4 L264.3,77.5 L266.6,78.7 L269.0,75.2 L271.3,85.6 L273.6,90.3 L276.0,99.5 L278.2,112.3 L279.9,129.7 L281.7,127.3 L284.4,141.6 L286.7,152.0 L289.7,148.5 L291.3,162.4 L293.2,179.8 L296.0,177.5 L297.8,185.6 L300.1,206.5 L303.6,179.8 L305.2,204.2 L307.5,193.7 L309.4,197.2 L311.7,218.0 L315.2,244.7 L317.5,235.4 L319.1,215.7 L321.4,206.5 L324.5,191.4 L326.8,206.5 L329.0,203.0 L331.4,215.7 L333.7,212.3 L336.0,217.0 L339.5,206.5 L343.0,188.0 L346.5,171.7 L350.0,190.3 L352.3,184.5 L355.7,177.5 L358.5,195.0 L362.2,217.0 L364.5,217.0 L368.5,237.8 L370.8,225.0 L373.1,220.4 L375.4,201.8 L379.0,191.4 L381.2,185.6 L383.1,177.5 L384.7,190.3 L388.2,184.5 L390.5,185.6 L392.3,179.7 L394.6,179.7 L398.8,161.0 L401.6,177.3 L403.9,172.7 L406.7,171.5 L408.5,178.5 L410.9,169.2 L413.2,172.7 L416.0,158.8 L419.0,154.2 L421.3,147.2 L422.4,105.5 L424.3,126.3 L427.0,114.8 L429.3,114.8 L431.7,109.0 L433.6,112.4 L435.9,132.0 L438.7,120.5 L442.1,105.5 L444.5,118.2 L446.8,121.7 L449.8,131.0 L452.1,135.6 L453.7,132.0 L457.2,144.9 L459.5,143.7 L463.7,155.3 L466.5,146.0 L470.0,140.3 L472.3,126.3 L473.4,105.0 L475.3,118.2 L476.9,114.8 L479.2,118.2 L481.5,121.7 L485.0,111.3 L487.3,103.2 L490.1,99.0 L492.0,110.0 L493.8,122.9 L495.4,134.5 L497.8,120.6 L500.8,124.0 L502.4,158.8 L504.0,149.5 L505.2,177.3 L505.8,200.0 L506.2,221.7 L508.5,240.3 L510.9,247.2 L512.5,275.0 L515.0,256.5 L517.8,269.2 L521.3,260.0 L524.8,270.4 L527.0,267.0 L530.6,271.5 L534.0,273.9 L537.5,285.4 L539.8,279.7 L542.3,282.0 L544.6,289.0 L547.4,305.2 L549.7,294.8 L552.7,293.6 L556.2,304.0 L559.7,312.0 L562.7,324.9 L566.0,307.5 L567.8,316.8 L570.6,307.5 L573.6,307.5 L575.9,327.2 L578.9,340.0 L581.3,335.3 L585.2,340.0 L588.7,340.0 L592.1,342.3 L595.6,343.4 L599.1,338.8 L601.4,330.7 L604.4,334.2 L606.7,335.3 L609.5,345.7 L612.3,347.0 L615.3,342.3 L620.0,336.5 L622.3,341.0 L623.9,313.3 L625.3,349.2 L627.6,340.0 L631.5,343.4 L634.5,344.6 L637.3,335.3 L641.5,334.2 L645.4,320.3 L648.9,309.8 L653.1,297.0 L655.9,305.2 L658.2,313.3 L660.5,322.6 L662.4,320.3 L665.8,331.4 L669.7,334.9 L672.7,324.5 L675.8,316.3 L679.0,313.6 L682.0,319.8 L685.0,325.6 L687.8,332.6 L690.1,333.0 L692.0,326.8 L694.3,336.0 L696.6,340.7 L699.4,336.0 L702.9,337.2 L705.2,339.5 L708.7,337.2 L711.0,338.4 L714.5,342.3 L717.5,337.2 L719.8,339.5 L723.0,331.4 L725.4,332.6 L728.4,323.3 L731.4,318.2 L734.2,323.3 L737.6,328.0 L741.1,324.5 L744.6,322.8 L747.6,306.0 L750.4,318.7 L752.7,328.0 L755.0,329.0 L756.9,335.0 L760.8,338.4 L764.3,333.7 L767.8,338.4 L772.4,339.5 L775.9,351.0 L778.2,357.0 L780.5,359.2 L782.4,363.9 L785.1,368.0 L788.1,370.4 L791.1,367.0 L793.9,369.2 L796.7,363.4 L799.7,360.0 L802.7,357.6 L805.0,365.7 L807.3,369.2 L810.1,371.5 L813.6,368.0 L816.6,367.6 L819.4,360.0 L821.7,358.8 L823.6,368.0 L826.3,360.0 L829.1,362.3 L831.4,366.9 L833.8,369.2 L836.1,361.0 L838.4,349.5 L841.4,357.6 L844.9,350.7 L848.4,340.7 L850.7,342.6 L853.7,349.5 L856.5,349.5 L860.0,355.3 L863.0,358.8 L865.0,357.6 L867.6,361.0 L870.4,354.2 L873.2,342.6 L875.7,338.0 L878.5,352.3 L882.0,350.7 L884.8,350.7 L887.1,346.0 L889.4,354.2 L893.6,357.6 L895.9,353.0 L898.7,344.9 L902.3,329.3 L905.8,333.0 L909.3,335.6 L912.0,338.0 L915.8,334.5 L919.7,320.6 L922.5,327.5 L925.5,318.2 L929.7,309.0 L932.9,313.6 L935.9,322.9 L938.9,332.0 L942.2,339.0 L945.9,339.8 L948.2,329.8 L951.0,312.4 L953.8,318.2 L956.8,326.3 L959.8,334.5 L962.6,339.8 L965.4,335.6 L967.7,339.0 L970.7,338.0 L974.6,338.4 L977.6,332.0 L980.6,327.5 L983.4,336.8 L985.3,326.3 L988.5,331.0 L991.5,333.3 L993.9,333.8 L996.9,341.4 L1000.1,349.5 L1002.4,346.0 L1005.4,353.0 L1008.9,360.0 L1013.3,357.6 L1017.0,361.8 L1020.4,374.5 L1022.7,378.5 L1025.8,371.6 L1029.7,375.7 L1033.2,381.5 L1036.0,373.4 L1040.1,366.5 L1042.9,371.0 L1045.9,377.0 L1048.9,370.0 L1051.3,374.6 L1054.0,367.6 L1056.3,359.5 L1059.1,353.7 L1061.4,357.7 L1064.5,352.6 L1067.5,350.7 L1070.7,354.9 L1074.4,351.4 L1077.7,345.6 L1080.7,332.9 L1083.7,331.7 L1086.0,329.4 L1088.8,334.0 L1091.5,335.2 L1094.5,333.0 L1098.0,337.5 L1101.5,329.4 L1103.9,323.6 L1106.9,324.8 L1110.1,317.8 L1113.1,324.8 L1115.4,335.2 L1118.5,339.8 L1121.2,335.2 L1123.6,329.4 L1127.0,335.2 L1129.4,337.5 L1132.4,332.9 L1135.1,339.8 L1137.5,346.0 L1140.0,345.6 L1143.0,343.0 L1146.0,347.0 L1149.0,349.0 L1152.0,347.0 L1155.0,351.0 L1158.0,353.0 L1161.7,355.0 L1164.3,357.0 L1167.0,358.6 L1170.4,361.3 L1173.9,359.5 L1178.5,357.5 L1182.0,354.4 L1185.0,356.5 L1187.5,357.5 L1189.5,360.4 L1192.1,362.0 L1193.8,369.0 L1196.4,374.3 L1199.0,369.0 L1202.5,368.2 L1205.0,366.5 L1208.6,366.5" stroke="#56d29a"/></g>
</g>
<circle cx="1208.6" cy="366.4" r="5" fill="#ee5456"/>
<line x1="1219.5" y1="0" x2="1219.5" y2="486" stroke="#222531"/>
<line x1="0" y1="486.5" x2="1220" y2="486.5" stroke="#222531"/>
<g class="yl"><text x="1232" y="19.0">0.136</text><text x="1232" y="59.8">0.134</text><text x="1232" y="100.7">0.132</text><text x="1232" y="141.5">0.130</text><text x="1232" y="182.3">0.128</text><text x="1232" y="223.1">0.126</text><text x="1232" y="264.0">0.124</text><text x="1232" y="304.8">0.122</text><text x="1232" y="345.6">0.120</text><text x="1232" y="386.4">0.118</text><text x="1232" y="427.2">0.116</text><text x="1232" y="468.0">0.114</text></g>
<g class="xl"><text x="30" y="508.4" text-anchor="middle">10</text><text x="203" y="508.4" text-anchor="middle">11</text><text x="376" y="508.4" text-anchor="middle">12</text><text x="548.5" y="508.4" text-anchor="middle">13</text><text x="721" y="508.4" text-anchor="middle">14</text><text x="894" y="508.4" text-anchor="middle">15</text><text x="1066.7" y="508.4" text-anchor="middle">16</text></g>
<g class="xl" clip-path="url(#cx)"><text x="1168.3" y="508.4" style="fill:#858ca2">6:05 PM</text></g>
<rect x="1220" y="354.3" width="56.3" height="24.7" fill="#e8463f"/>
<text x="1248.3" y="371.6" text-anchor="middle" style="font:bold 13.5px 'Liberation Sans',sans-serif" fill="#ffffff">0.119</text>
<g id="wm">
<g transform="translate(1100.6,346.6)" fill="none" stroke="#eceef4" stroke-linecap="round" stroke-linejoin="round" stroke-width="2.8">
<path d="M10.2,9.6 A14,14 0 1 1 13.9,1.6 C13.3,5.6 9.2,5.8 9.2,2.4 L9.2,-3.2 C9.2,-6.2 6.2,-6.6 4.9,-4.2 L0.3,4.2 L0.3,-3.4 C0.3,-6.2 -2.5,-6.6 -3.6,-4.4 L-10,6.4"/>
</g>
<text x="1126.5" y="353.8" style="font:bold 19.5px 'Liberation Sans',sans-serif" fill="#eceef4">CoinMarketCap</text>
</g>
</svg>
</body></html>
